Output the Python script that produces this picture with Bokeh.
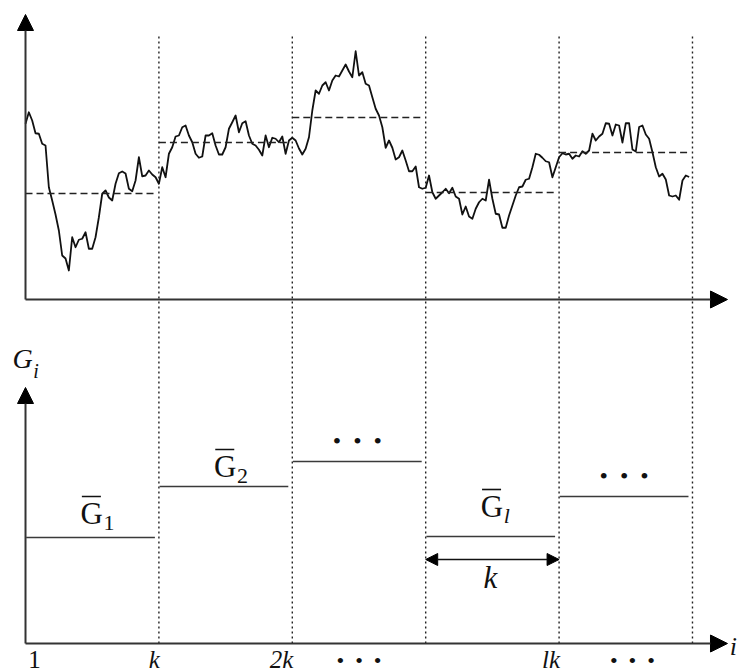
import numpy as np
from bokeh.plotting import figure
from bokeh.models import Range1d, Arrow, NormalHead
from bokeh.core.properties import value
from bokeh.embed import file_html
from bokeh.resources import INLINE

# ---------------- data ----------------
K = 40                       # samples per window
t = list(range(200))         # sample index
signal = [
    70.3, 74.9, 71.6, 66.5, 66.3, 62.3, 61.6, 44.9, 39.6, 34.0,
    27.6, 17.6, 16.4, 11.6, 24.9, 20.9, 23.9, 24.3, 26.9, 20.3,
    20.3, 24.9, 32.9, 42.3, 43.6, 40.8, 39.6, 46.3, 50.5, 51.2,
    50.4, 44.3, 43.3, 47.6, 56.9, 49.3, 49.6, 51.6, 50.0, 48.9,
    46.3, 52.9, 48.9, 58.3, 60.9, 65.2, 65.6, 68.9, 69.6, 65.6,
    62.9, 58.3, 56.7, 57.2, 65.6, 65.6, 66.5, 61.6, 58.0, 58.0,
    60.9, 68.3, 70.9, 73.6, 66.9, 70.5, 71.3, 65.6, 62.3, 61.6,
    59.9, 57.6, 65.6, 60.9, 64.7, 64.3, 62.9, 65.2, 58.3, 63.6,
    64.7, 63.6, 60.4, 58.0, 60.3, 64.9, 75.6, 83.6, 82.3, 85.6,
    86.9, 83.6, 87.6, 89.6, 89.2, 91.6, 94.0, 91.2, 88.9, 99.3,
    89.6, 90.9, 86.3, 85.6, 80.9, 76.3, 73.6, 68.9, 60.7, 63.6,
    60.7, 56.0, 56.9, 59.6, 55.6, 51.3, 51.3, 53.2, 44.9, 44.3,
    44.7, 49.6, 42.9, 40.3, 41.6, 42.9, 44.3, 42.5, 44.7, 41.2,
    40.3, 34.0, 37.2, 33.2, 32.3, 36.3, 38.9, 40.3, 39.6, 47.9,
    40.3, 34.3, 34.0, 28.7, 28.7, 33.6, 37.6, 41.6, 44.9, 45.2,
    47.9, 48.3, 52.9, 58.3, 57.9, 56.7, 55.3, 54.9, 48.9, 52.9,
    56.9, 58.5, 58.0, 58.3, 56.3, 57.6, 57.2, 59.3, 58.3, 59.6,
    66.3, 63.6, 65.2, 66.3, 70.5, 70.3, 65.6, 70.0, 69.6, 62.8,
    70.5, 70.5, 60.0, 59.2, 69.0, 69.6, 66.0, 64.3, 58.9, 52.9,
    49.2, 50.3, 48.0, 41.6, 41.2, 41.6, 39.9, 47.6, 49.6, 49.0,
]
window_means = [42.4, 62.8, 72.8, 42.8, 58.8]     # G-bar per window
window_labels = ["1", "2", None, "l", None]        # subscripts (None -> dots)
tick_labels = ["1", "k", "2k", "lk"]
tick_pos = [0, 1 * K, 2 * K, 4 * K]
dots_tick_pos = [2.5 * K, 4.55 * K]

# ---------------- layout ----------------
FONT = value("Liberation Serif")
INK = "#111111"
AX = "#333333"
PX_PER_UNIT = 2.5
DOTS = "\u2022\u2002\u2022\u2002\u2022"

def lift(fs):
    """offset (in value units) from baseline to the 'middle' text anchor"""
    return 0.34 * fs / PX_PER_UNIT

p = figure(width=738, height=672,
           x_range=Range1d(-7.5, 213.8), y_range=Range1d(-149.2, 119.6),
           x_axis_type=None, y_axis_type=None,
           output_backend="svg", toolbar_location=None, min_border=0)
p.extra_y_ranges = {"g": Range1d(-11.6, 257.2)}
p.grid.visible = False
p.outline_line_color = None
p.background_fill_color = "white"
p.border_fill_color = "white"

def txt(x, y, s, fs, italic=False, align="left"):
    """y is the baseline (in the 'g' range)"""
    p.text(x=x, y=[v + lift(fs) for v in y], text=s, y_range_name="g",
           text_font=FONT, text_font_size=f"{fs}px", text_color=INK,
           text_font_style="italic" if italic else "normal",
           text_align=align, text_baseline="middle")

n_win = len(window_means)
bounds = [K * (i + 1) for i in range(n_win)]

# dotted window boundaries spanning both panels
p.segment(x0=bounds, y0=[0] * n_win, x1=bounds, y1=[243.2] * n_win,
          y_range_name="g", line_color="#222222", line_width=1.4,
          line_dash="2 3")

# top panel: signal and window means
p.line(t, signal, line_color=INK, line_width=1.8, line_join="round")
x0s = [K * i for i in range(n_win)]
x1s = [K * i + K - 0.9 for i in range(n_win)]
p.segment(x0=x0s, y0=window_means, x1=x1s, y1=window_means,
          line_color="#222222", line_width=1.7, line_dash="7 4")

# bottom panel: step levels
p.segment(x0=[x + 0.2 for x in x0s], y0=window_means, x1=[K * i + K - 1.2 for i in range(n_win)],
          y1=window_means, y_range_name="g", line_color="#3a3a3a", line_width=1.6)

# axes as arrows
def axis_arrow(xs, ys, xe, ye, rng="default", size=15):
    p.add_layout(Arrow(end=NormalHead(size=size, fill_color="black", line_color="black"),
                       x_start=xs, y_start=ys, x_end=xe, y_end=ye,
                       line_color=AX, line_width=2.0, y_range_name=rng))

axis_arrow(0, 0, 0, 114.0, size=16)
axis_arrow(0, 0, 210.5, 0, size=17)
axis_arrow(0, 0, 0, 102.4, rng="g", size=16)
axis_arrow(0, 0, 210.5, 0, rng="g", size=17)

# window-length double arrow
p.add_layout(Arrow(start=NormalHead(size=12, fill_color="black", line_color="black"),
                   end=NormalHead(size=12, fill_color="black", line_color="black"),
                   x_start=3 * K, y_start=33.6, x_end=4 * K, y_end=33.6,
                   line_color=INK, line_width=1.5, y_range_name="g"))
txt([3.5 * K - 0.6], [22.0], ["k"], 31, italic=True, align="center")

# G-bar labels (G, bar, subscript)
label_y = {0: 47.6, 1: 66.4, 3: 50.4}
bar_x0, bar_x1, bar_dy = [], [], []
for i, sub in enumerate(window_labels):
    if sub is None:
        continue
    gx = K * i + 16.5
    gy = label_y[i]
    txt([gx], [gy], ["G"], 31)
    txt([gx + 6.9], [gy - 2.2], [sub], 22, italic=(sub == "l"))
    bar_x0.append(gx + 0.4)
    bar_x1.append(gx + 6.1)
    bar_dy.append(gy + 11.2)
p.segment(x0=bar_x0, y0=bar_dy, x1=bar_x1, y1=bar_dy, y_range_name="g",
          line_color=INK, line_width=1.6)

# dots above unlabeled windows
dot_y = {2: 81.2, 4: 67.2}
for i, sub in enumerate(window_labels):
    if sub is None:
        p.text(x=[K * i + 19.5], y=[dot_y[i]], text=[DOTS],
               y_range_name="g", text_font=FONT, text_font_size="24px",
               text_color=INK, text_align="center", text_baseline="middle")

# axis label G_i
txt([-3.9], [110.0], ["G"], 28, italic=True)
txt([2.3], [106.4], ["i"], 20, italic=True)
# x-axis label i (at the right edge)
txt([211.2], [-4.8], ["i"], 26, italic=True)

# tick labels below bottom axis
txt([tick_pos[0] + 0.8], [-9.9], [tick_labels[0]], 25)
txt([x + 0.3 for x in tick_pos[1:]], [-9.9] * 3, tick_labels[1:], 25,
    italic=True, align="right")
p.text(x=dots_tick_pos, y=[-6.6] * 2, text=[DOTS] * 2,
       y_range_name="g", text_font=FONT, text_font_size="22px", text_color=INK,
       text_align="center", text_baseline="middle")

open("out.html", "w").write(file_html(p, INLINE))
